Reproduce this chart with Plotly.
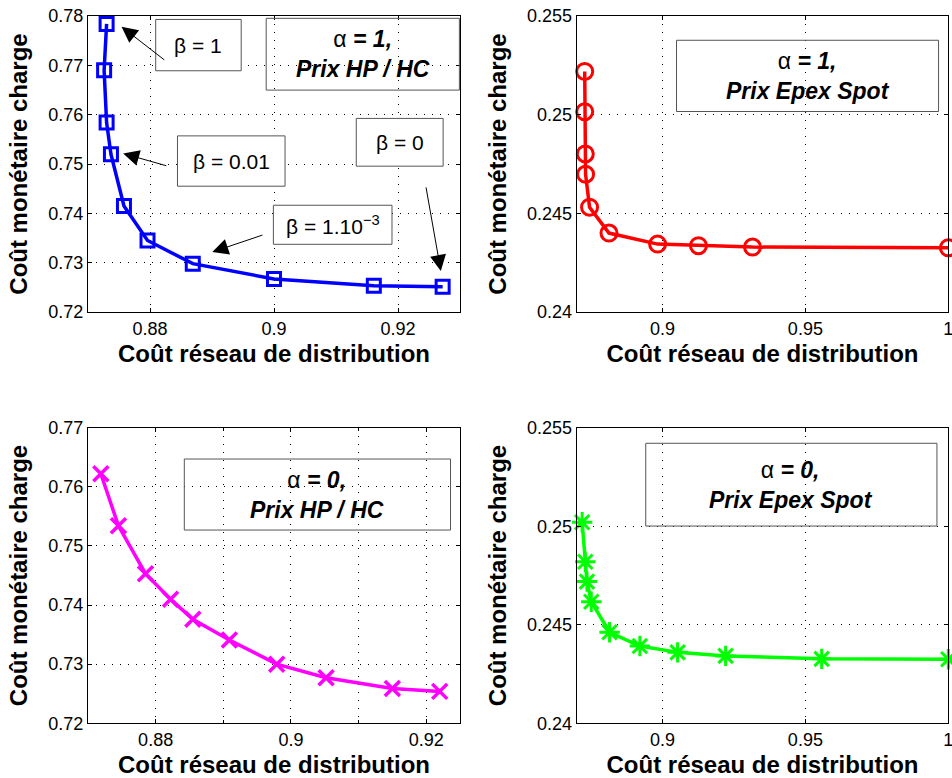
import plotly.graph_objects as go
from plotly.subplots import make_subplots

# ---------------- data ----------------
tl_x = [0.8730, 0.8726, 0.8730, 0.8737, 0.8758, 0.8796, 0.8869, 0.9000, 0.9161, 0.9272]
tl_y = [0.7784, 0.7690, 0.7584, 0.7520, 0.7415, 0.7345, 0.7298, 0.7267, 0.7253, 0.7251]

tr_x = [0.8728, 0.8728, 0.8730, 0.8731, 0.8745, 0.8813, 0.8983, 0.9126, 0.9315, 1.0000]
tr_y = [0.25219, 0.25015, 0.24801, 0.24698, 0.24531, 0.24400, 0.24344, 0.24336, 0.24329, 0.24325]

bl_x = [0.8719, 0.8745, 0.8785, 0.8822, 0.8855, 0.8909, 0.8979, 0.9052, 0.9150, 0.9220]
bl_y = [0.7622, 0.7534, 0.7453, 0.7410, 0.7376, 0.7341, 0.7300, 0.7277, 0.7259, 0.7254]

br_x = [0.8719, 0.8730, 0.8736, 0.8751, 0.8815, 0.8921, 0.9053, 0.9221, 0.9557, 1.0000]
br_y = [0.25020, 0.24820, 0.24719, 0.24617, 0.24462, 0.24392, 0.24360, 0.24342, 0.24327, 0.24325]

left_xticks = [0.88, 0.9, 0.92]
left_xtext = ["0.88", "0.9", "0.92"]
left_top_yticks = [0.72, 0.73, 0.74, 0.75, 0.76, 0.77, 0.78]
left_bot_yticks = [0.72, 0.73, 0.74, 0.75, 0.76, 0.77]
right_xticks = [0.9, 0.95, 1.0]
right_xtext = ["0.9", "0.95", "1"]
right_yticks = [0.24, 0.245, 0.25, 0.255]
right_ytext = ["0.24", "0.245", "0.25", "0.255"]

xlabel = "Coût réseau de distribution"
ylabel = "Coût monétaire charge"

FONT = "Liberation Sans, Arial, Helvetica, sans-serif"

fig = make_subplots(rows=2, cols=2)

fig.add_trace(go.Scatter(x=tl_x, y=tl_y, mode="lines+markers", cliponaxis=False,
                         line=dict(color="#0000FF", width=3.5),
                         marker=dict(symbol="square-open", size=13, color="#0000FF",
                                     line=dict(width=3, color="#0000FF")),
                         showlegend=False), row=1, col=1)
fig.add_trace(go.Scatter(x=tr_x, y=tr_y, mode="lines+markers", cliponaxis=False,
                         line=dict(color="#FF0000", width=3.5),
                         marker=dict(symbol="circle-open", size=16, color="#FF0000",
                                     line=dict(width=3, color="#FF0000")),
                         showlegend=False), row=1, col=2)
fig.add_trace(go.Scatter(x=bl_x, y=bl_y, mode="lines+markers", cliponaxis=False,
                         line=dict(color="#FF00FF", width=3.5),
                         marker=dict(symbol="x-thin-open", size=15, color="#FF00FF",
                                     line=dict(width=3.5, color="#FF00FF")),
                         showlegend=False), row=2, col=1)
fig.add_trace(go.Scatter(x=br_x, y=br_y, mode="lines+markers", cliponaxis=False,
                         line=dict(color="#00FF00", width=3.5),
                         marker=dict(symbol="asterisk-open", size=17, color="#00FF00",
                                     line=dict(width=3, color="#00FF00")),
                         showlegend=False), row=2, col=2)

axis_common = dict(showline=True, linecolor="black", linewidth=1, mirror="ticks",
                   ticks="inside", ticklen=4, tickcolor="black", automargin=False,
                   ticklabeloverflow="allow",
                   showgrid=True, gridcolor="black", gridwidth=1, griddash="1px,7px",
                   zeroline=False,
                   tickfont=dict(family=FONT, size=18, color="black"))

dom_xl = [88 / 952, 460 / 952]
dom_xr = [576.7 / 952, 948.3 / 952]
dom_yt = [1 - 312 / 778, 1 - 16 / 778]
dom_yb = [1 - 723.3 / 778, 1 - 427.7 / 778]

tfont = dict(family=FONT, size=24, color="black", weight="bold")
xt = dict(text=xlabel, font=tfont, standoff=7)
yt = dict(text=ylabel, font=tfont, standoff=13)

minor_left = dict(tick0=0.88, dtick=0.01, showgrid=True, gridcolor="black", gridwidth=1,
                  griddash="1px,7px", ticks="inside", ticklen=3, tickcolor="black")

fig.update_layout(
    xaxis=dict(axis_common, domain=dom_xl, range=[0.87, 0.93], tickvals=left_xticks,
               ticktext=left_xtext, title=xt),
    yaxis=dict(axis_common, domain=dom_yt, range=[0.72, 0.78], tickvals=left_top_yticks,
               ticktext=["%.2f" % v for v in left_top_yticks], title=yt),
    xaxis2=dict(axis_common, domain=dom_xr, range=[0.87, 1.0], tickvals=right_xticks,
                ticktext=right_xtext, title=xt),
    yaxis2=dict(axis_common, domain=dom_yt, range=[0.24, 0.255], tickvals=right_yticks,
                ticktext=right_ytext, title=yt),
    xaxis3=dict(axis_common, domain=dom_xl, range=[0.87, 0.925], tickvals=left_xticks,
                ticktext=left_xtext, title=xt, minor=minor_left),
    yaxis3=dict(axis_common, domain=dom_yb, range=[0.72, 0.77], tickvals=left_bot_yticks,
                ticktext=["%.2f" % v for v in left_bot_yticks], title=yt),
    xaxis4=dict(axis_common, domain=dom_xr, range=[0.87, 1.0], tickvals=right_xticks,
                ticktext=right_xtext, title=xt),
    yaxis4=dict(axis_common, domain=dom_yb, range=[0.24, 0.255], tickvals=right_yticks,
                ticktext=right_ytext, title=yt),
    width=952, height=778,
    margin=dict(l=0, r=0, t=0, b=0),
    paper_bgcolor="white", plot_bgcolor="white",
    font=dict(family=FONT, color="black"),
)

BOX = "#555555"

def box(xr, yr, x0, x1, y0, y1, fill="rgba(0,0,0,0)"):
    fig.add_shape(type="rect", xref=xr, yref=yr, x0=x0, x1=x1, y0=y0, y1=y1,
                  line=dict(color=BOX, width=1), fillcolor=fill, layer="above")

def label(xr, yr, x, y, text, size=21):
    fig.add_annotation(xref=xr, yref=yr, x=x, y=y, text=text, showarrow=False,
                       font=dict(family=FONT, size=size, color="black"),
                       xanchor="center", yanchor="middle", align="center")

def arrow(xr, yr, x_tail, y_tail, x_head, y_head):
    fig.add_annotation(xref=xr, yref=yr, axref=xr, ayref=yr,
                       x=x_head, y=y_head, ax=x_tail, ay=y_tail, text="",
                       showarrow=True, arrowhead=2, arrowsize=3.2, arrowwidth=1,
                       arrowcolor="black")

TSIZE = 23

# ---- top-left annotations ----
box("x", "y", 0.89874, 0.9299, 0.76498, 0.77953)
label("x", "y", (0.89874 + 0.9299) / 2, (0.76498 + 0.77953) / 2,
      "α <b><i>= 1,</i></b><br><b><i>Prix HP / HC</i></b>", TSIZE)

box("x", "y", 0.88092, 0.89471, 0.7689, 0.7793, fill="white")
label("x", "y", (0.88092 + 0.89471) / 2, (0.7689 + 0.7793) / 2, "β = 1")
box("x", "y", 0.88443, 0.90178, 0.7455, 0.7557, fill="white")
label("x", "y", (0.88443 + 0.90178) / 2, (0.7455 + 0.7557) / 2, "β = 0.01")
box("x", "y", 0.89990, 0.91903, 0.73372, 0.74164, fill="white")
label("x", "y", (0.89990 + 0.91903) / 2, (0.73372 + 0.74164) / 2, "β = 1.10<sup>−3</sup>")
box("x", "y", 0.91327, 0.92728, 0.74956, 0.75924, fill="white")
label("x", "y", (0.91327 + 0.92728) / 2, (0.74956 + 0.75924) / 2, "β = 0")

arrow("x", "y", 0.88255, 0.77087, 0.87541, 0.77783)
arrow("x", "y", 0.88287, 0.74956, 0.87567, 0.75213)
arrow("x", "y", 0.89837, 0.73569, 0.89005, 0.73216)
arrow("x", "y", 0.92448, 0.74556, 0.92691, 0.72831)

# ---- top-right ----
box("x2", "y2", 0.90492, 0.99659, 0.25016, 0.25377)
label("x2", "y2", (0.90492 + 0.99659) / 2, (0.25016 + 0.25377) / 2,
      "α <b><i>= 1,</i></b><br><b><i>Prix Epex Spot</i></b>", TSIZE)

# ---- bottom-left ----
box("x3", "y3", 0.88424, 0.92360, 0.75269, 0.76470)
label("x3", "y3", (0.88424 + 0.92360) / 2, (0.75269 + 0.76470) / 2,
      "α <b><i>= 0,</i></b><br><b><i>Prix HP / HC</i></b>", TSIZE)

# ---- bottom-right ----
box("x4", "y4", 0.89416, 0.99603, 0.25001, 0.25421)
label("x4", "y4", (0.89416 + 0.99603) / 2, (0.25001 + 0.25421) / 2,
      "α <b><i>= 0,</i></b><br><b><i>Prix Epex Spot</i></b>", TSIZE)

fig.write_html("out.html", config={"displayModeBar": False},
               post_script="document.body.style.margin='0';document.body.style.overflow='hidden';")
